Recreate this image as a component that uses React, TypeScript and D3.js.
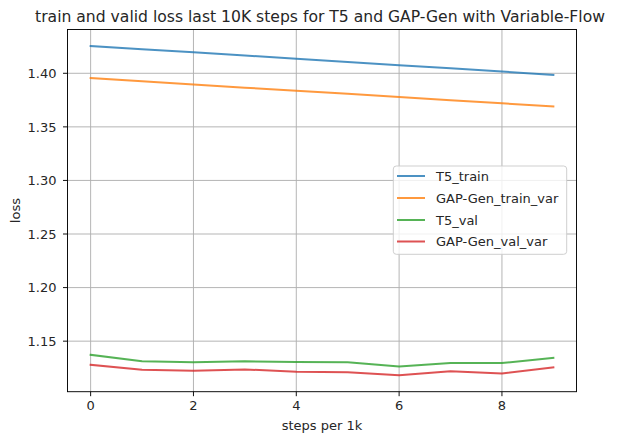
import React from "react";
import * as d3 from "d3";

const steps = [0, 1, 2, 3, 4, 5, 6, 7, 8, 9];
const t5Train = [1.4255, 1.4225, 1.4196, 1.4166, 1.4136, 1.4106, 1.4076, 1.4046, 1.4016, 1.3985];
const gapTrain = [1.3955, 1.3925, 1.3896, 1.3866, 1.3837, 1.3808, 1.3778, 1.3749, 1.3720, 1.3690];
const t5Val = [1.1373, 1.1312, 1.1303, 1.1312, 1.1306, 1.1303, 1.1264, 1.1296, 1.1296, 1.1344];
const gapVal = [1.1280, 1.1233, 1.1223, 1.1236, 1.1214, 1.1210, 1.1182, 1.1219, 1.1198, 1.1255];
const seriesNames = ["T5_train", "GAP-Gen_train_var", "T5_val", "GAP-Gen_val_var"];
const colors = ["#1f77b4", "#ff7f0e", "#2ca02c", "#d62728"];
const xTicks = [0, 2, 4, 6, 8];
const yTicks = [1.15, 1.2, 1.25, 1.3, 1.35, 1.4];
const title = "train and valid loss last 10K steps for T5 and GAP-Gen with Variable-Flow";

export default function App() {
  const W = 623, H = 436;
  const left = 67.5, right = 576.5, top = 29.5, bottom = 391.7;
  const all = [t5Train, gapTrain, t5Val, gapVal];
  const minV = d3.min(all.flat())!;
  const maxV = d3.max(all.flat())!;
  const pad = (maxV - minV) * 0.05;
  const x = d3.scaleLinear().domain([-0.45, 9.45]).range([left, right]);
  const y = d3.scaleLinear().domain([minV - pad, maxV + pad]).range([bottom, top]);
  const line = d3.line<number>().x((_, i) => x(steps[i])).y((d) => y(d));
  const font = "DejaVu Sans, sans-serif";
  const fs = 13;
  const lg = { x: 393.3, y: 166, w: 173.4, h: 88.3 };
  const rowY = [176, 198, 220, 241.5];
  return (
    <svg width={W} height={H} style={{ position: "absolute", left: 0, top: 0 }} fontFamily={font}>
      <rect x={0} y={0} width={W} height={H} fill="#fff" />
      {xTicks.map((t) => (
        <line key={"gx" + t} x1={x(t)} x2={x(t)} y1={top} y2={bottom} stroke="#b0b0b0" strokeWidth={0.94} />
      ))}
      {yTicks.map((t) => (
        <line key={"gy" + t} x1={left} x2={right} y1={y(t)} y2={y(t)} stroke="#b0b0b0" strokeWidth={0.94} />
      ))}
      {all.map((s, i) => (
        <path key={i} d={line(s)!} fill="none" stroke={colors[i]} strokeWidth={2} strokeOpacity={0.8} strokeLinejoin="round" strokeLinecap="square" />
      ))}
      <rect x={left} y={top} width={right - left} height={bottom - top} fill="none" stroke="#000" strokeWidth={0.94} />
      {xTicks.map((t) => (
        <g key={"tx" + t}>
          <line x1={x(t)} x2={x(t)} y1={bottom} y2={bottom + 4.5} stroke="#000" strokeWidth={0.94} />
          <text x={x(t)} y={bottom + 8.5} dy="0.76em" textAnchor="middle" fontSize={fs} fill="#262626">{t}</text>
        </g>
      ))}
      {yTicks.map((t) => (
        <g key={"ty" + t}>
          <line x1={left - 4.5} x2={left} y1={y(t)} y2={y(t)} stroke="#000" strokeWidth={0.94} />
          <text x={left - 11} y={y(t)} dy="0.36em" textAnchor="end" fontSize={fs} fill="#262626">{t.toFixed(2)}</text>
        </g>
      ))}
      <text x={(left + right) / 2 - 2} y={top - 8} textAnchor="middle" fontSize={15.6} fill="#262626">{title}</text>
      <text x={(left + right) / 2} y={430} textAnchor="middle" fontSize={fs} fill="#262626">steps per 1k</text>
      <text transform={`translate(19.5,${(top + bottom) / 2}) rotate(-90)`} textAnchor="middle" fontSize={fs} fill="#262626">loss</text>
      <rect x={lg.x} y={lg.y} width={lg.w} height={lg.h} rx={3} fill="#fff" fillOpacity={0.8} stroke="#cccccc" strokeWidth={0.94} />
      {seriesNames.map((n, i) => (
        <g key={n}>
          <line x1={397} x2={425} y1={rowY[i]} y2={rowY[i]} stroke={colors[i]} strokeWidth={2} strokeOpacity={0.8} />
          <text x={436} y={rowY[i]} dy="0.36em" fontSize={fs} fill="#262626">{n}</text>
        </g>
      ))}
    </svg>
  );
}
